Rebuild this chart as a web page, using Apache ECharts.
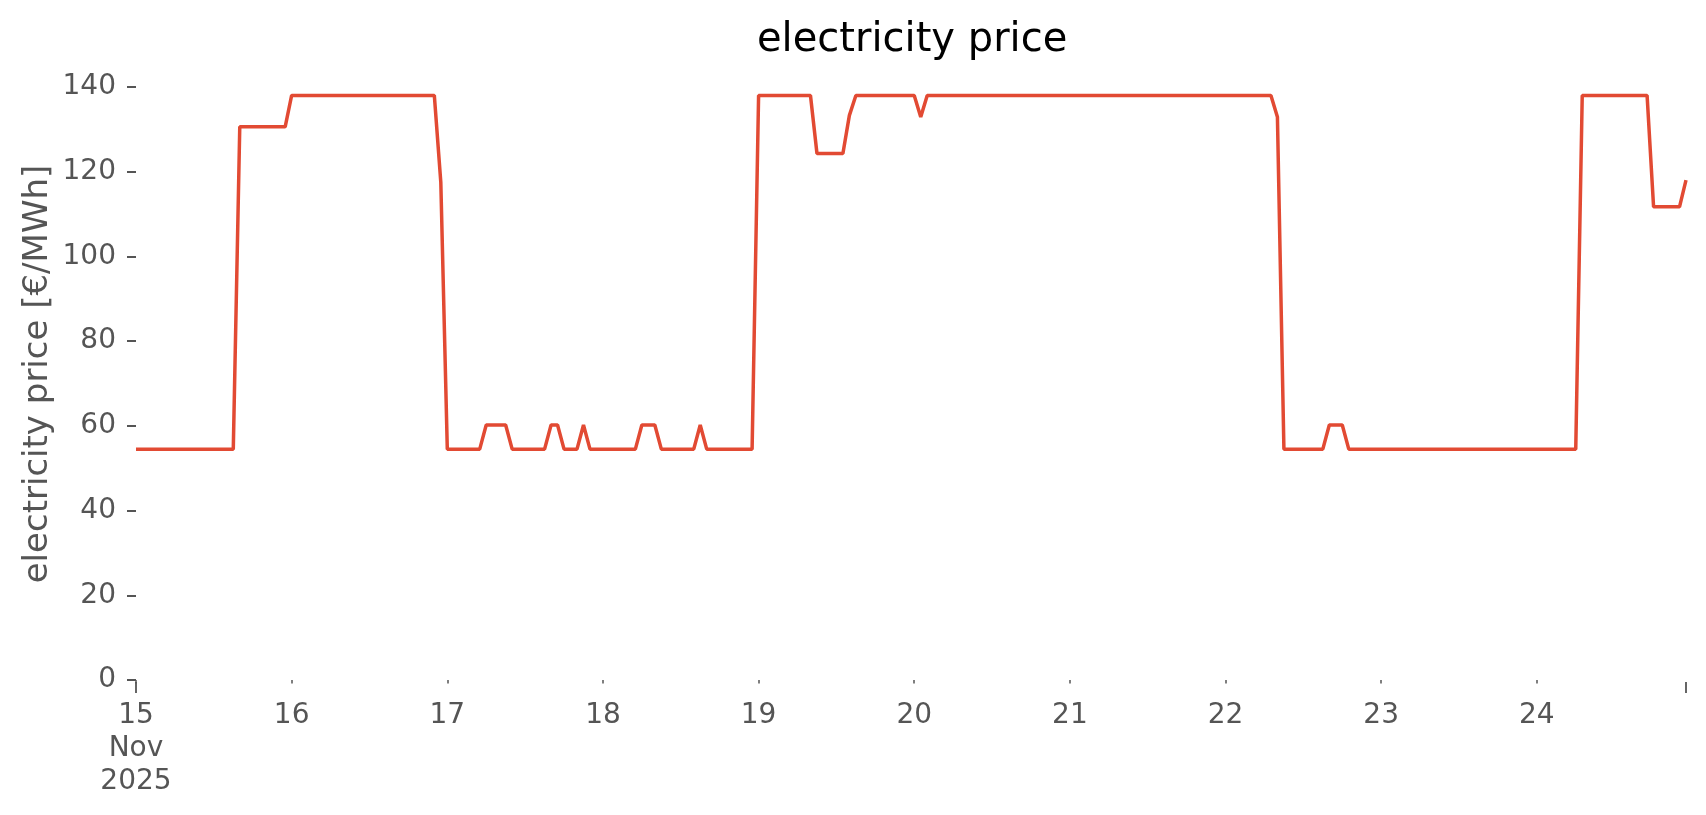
<!DOCTYPE html>
<html>
<head>
<meta charset="utf-8">
<title>electricity price</title>
<script src="https://cdn.jsdelivr.net/npm/echarts@6/dist/echarts.min.js"></script>
<style>
  html, body { margin: 0; padding: 0; background: #fff; }
  #main { width: 1706px; height: 815px; }
</style>
</head>
<body>
<div id="main"></div>
<script>
// hourly prices, one array per day (Nov 15 .. Nov 24 2025), €/MWh
var nov15 = [54.5, 54.5, 54.5, 54.5, 54.5, 54.5, 54.5, 54.5, 54.5, 54.5, 54.5, 54.5, 54.5, 54.5, 54.5, 54.5, 130.6, 130.6, 130.6, 130.6, 130.6, 130.6, 130.6, 130.6];
var nov16 = [138, 138, 138, 138, 138, 138, 138, 138, 138, 138, 138, 138, 138, 138, 138, 138, 138, 138, 138, 138, 138, 138, 138, 117.5];
var nov17 = [54.5, 54.5, 54.5, 54.5, 54.5, 54.5, 60.2, 60.2, 60.2, 60.2, 54.5, 54.5, 54.5, 54.5, 54.5, 54.5, 60.2, 60.2, 54.5, 54.5, 54.5, 60.2, 54.5, 54.5];
var nov18 = [54.5, 54.5, 54.5, 54.5, 54.5, 54.5, 60.2, 60.2, 60.2, 54.5, 54.5, 54.5, 54.5, 54.5, 54.5, 60.2, 54.5, 54.5, 54.5, 54.5, 54.5, 54.5, 54.5, 54.5];
var nov19 = [138, 138, 138, 138, 138, 138, 138, 138, 138, 124.3, 124.3, 124.3, 124.3, 124.3, 133.3, 138, 138, 138, 138, 138, 138, 138, 138, 138];
var nov20 = [138, 132.9, 138, 138, 138, 138, 138, 138, 138, 138, 138, 138, 138, 138, 138, 138, 138, 138, 138, 138, 138, 138, 138, 138];
var nov21 = [138, 138, 138, 138, 138, 138, 138, 138, 138, 138, 138, 138, 138, 138, 138, 138, 138, 138, 138, 138, 138, 138, 138, 138];
var nov22 = [138, 138, 138, 138, 138, 138, 138, 138, 132.9, 54.5, 54.5, 54.5, 54.5, 54.5, 54.5, 54.5, 60.2, 60.2, 60.2, 54.5, 54.5, 54.5, 54.5, 54.5];
var nov23 = [54.5, 54.5, 54.5, 54.5, 54.5, 54.5, 54.5, 54.5, 54.5, 54.5, 54.5, 54.5, 54.5, 54.5, 54.5, 54.5, 54.5, 54.5, 54.5, 54.5, 54.5, 54.5, 54.5, 54.5];
var nov24 = [54.5, 54.5, 54.5, 54.5, 54.5, 54.5, 54.5, 138, 138, 138, 138, 138, 138, 138, 138, 138, 138, 138, 111.7, 111.7, 111.7, 111.7, 111.7, 118];

var days = ["15", "16", "17", "18", "19", "20", "21", "22", "23", "24"];
var dayLabels = ["15\nNov\n2025", "16", "17", "18", "19", "20", "21", "22", "23", "24"];
var yTicks = [0, 20, 40, 60, 80, 100, 120, 140];

var prices = [].concat(nov15, nov16, nov17, nov18, nov19, nov20, nov21, nov22, nov23, nov24);
var hours = [];
days.forEach(function (d) {
  for (var h = 0; h < 24; h++) hours.push("2025-11-" + d + " " + (h < 10 ? "0" : "") + h + ":00");
});
var last = hours.length - 1;

var font = "DejaVu Sans";
var grey = "#555555";

var myChart = echarts.init(document.getElementById("main"));
myChart.setOption({
  animation: false,
  backgroundColor: "#ffffff",
  title: {
    text: "electricity price",
    left: 752,
    top: 16,
    textStyle: { fontFamily: font, fontSize: 40, fontWeight: "normal", color: "#000000" }
  },
  grid: { left: 136, right: 20, top: 87, bottom: 135 },
  xAxis: [
    {
      type: "category",
      data: hours,
      boundaryGap: false,
      offset: 5,
      axisLine: { show: false },
      axisTick: {
        show: true,
        length: 3.5,
        interval: function (i) { return i % 24 === 0; },
        lineStyle: { color: grey, width: 1.5 }
      },
      axisLabel: {
        interval: function (i) { return i % 24 === 0; },
        formatter: function (v, i) { return dayLabels[i / 24]; },
        fontFamily: font,
        fontSize: 28,
        lineHeight: 33,
        color: grey,
        margin: 14
      },
      splitLine: { show: false }
    },
    {
      // longer ticks at both ends of the date range
      type: "category",
      data: hours,
      boundaryGap: false,
      position: "bottom",
      offset: 2,
      axisLine: { show: false },
      axisTick: {
        show: true,
        length: 11,
        interval: function (i) { return i === 0 || i === last; },
        lineStyle: { color: grey, width: 1.8 }
      },
      axisLabel: { show: false },
      splitLine: { show: false }
    }
  ],
  yAxis: {
    type: "value",
    min: yTicks[0],
    max: yTicks[yTicks.length - 1],
    interval: 20,
    axisLine: { show: false },
    axisTick: { show: true, length: 9, lineStyle: { color: grey, width: 2 } },
    axisLabel: { fontFamily: font, fontSize: 28, color: grey, margin: 20 },
    splitLine: { show: false }
  },
  graphic: [
    {
      type: "text",
      x: 38,
      y: 374,
      rotation: Math.PI / 2,
      style: {
        text: "electricity price [€/MWh]",
        fontFamily: font,
        fontSize: 34,
        fill: grey,
        align: "center",
        verticalAlign: "middle"
      }
    }
  ],
  series: [
    {
      name: "electricity price",
      type: "line",
      data: prices,
      showSymbol: false,
      lineStyle: { color: "#E24A33", width: 3.5 },
      itemStyle: { color: "#E24A33" }
    }
  ]
});
</script>
</body>
</html>
